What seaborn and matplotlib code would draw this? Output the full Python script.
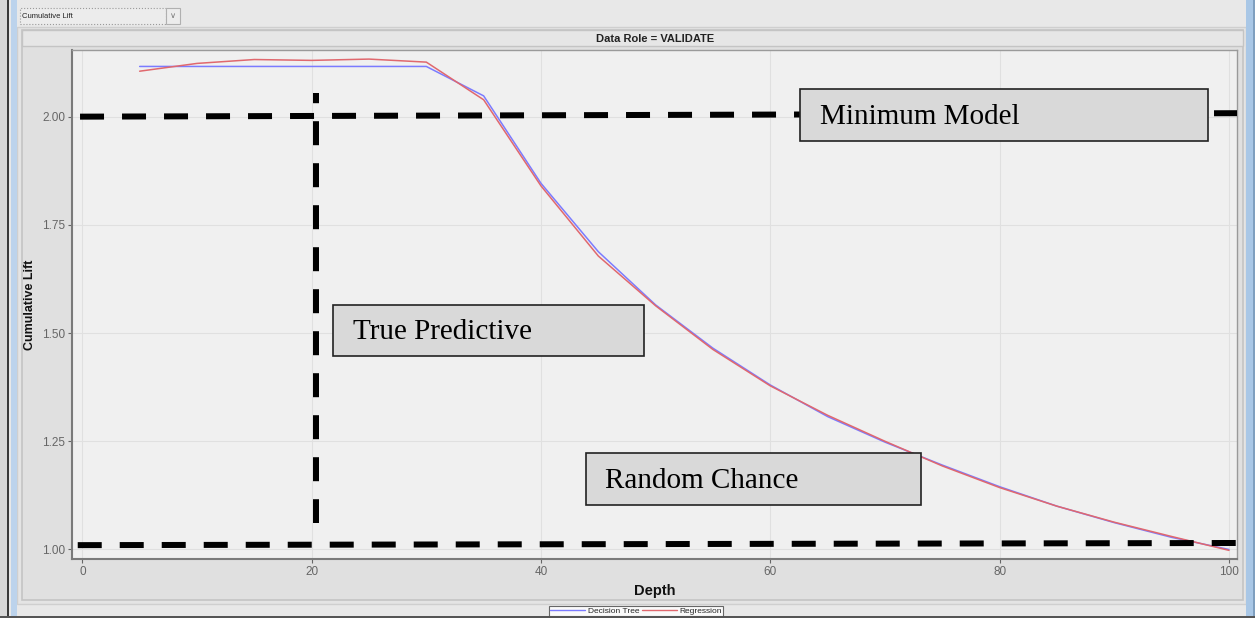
import numpy as np
import pandas as pd
import matplotlib
matplotlib.use("Agg")
import matplotlib.pyplot as plt
from matplotlib.patches import Rectangle
from matplotlib.lines import Line2D
import seaborn as sns

# ---------------------------------------------------------
# DATA
# ---------------------------------------------------------
depth = [5, 10, 15, 20, 25, 30, 35, 40, 45, 50, 55, 60, 65, 70, 75, 80, 85, 90, 95, 100]
decision_tree = [2.116, 2.116, 2.116, 2.116, 2.116, 2.116, 2.048, 1.846, 1.688, 1.565,
                 1.465, 1.380, 1.307, 1.248, 1.195, 1.145, 1.100, 1.062, 1.028, 1.000]
regression = [2.105, 2.123, 2.132, 2.130, 2.133, 2.126, 2.039, 1.840, 1.678, 1.563,
              1.462, 1.378, 1.310, 1.250, 1.193, 1.143, 1.100, 1.063, 1.030, 0.998]
series_names = ["Decision Tree", "Regression"]
x_ticks = [0, 20, 40, 60, 80, 100]
y_ticks = [1.00, 1.25, 1.50, 1.75, 2.00]

# hand-drawn annotation lines and boxes
min_model_x = [-0.2, 100.7]
min_model_y = [2.000, 2.008]
random_x = [-0.4, 100.7]
random_y = [1.010, 1.015]
true_pred_x = [20.4, 20.4]
true_pred_y = [2.054, 1.062]
box_labels = ["Minimum Model", "True Predictive", "Random Chance"]
box_x0 = [62.6, 21.9, 43.9]
box_x1 = [98.2, 49.0, 73.1]
box_y0 = [1.944, 1.446, 1.103]
box_y1 = [2.063, 1.565, 1.223]

df = pd.DataFrame({
    "Depth": depth * 2,
    "Cumulative Lift": decision_tree + regression,
    "Model": [series_names[0]] * len(depth) + [series_names[1]] * len(depth),
})

W, H = 1255, 618
sns.set_theme(style="whitegrid", rc={
    "axes.facecolor": "#f0f0f0",
    "grid.color": "#e0e0e0",
    "grid.linewidth": 0.8,
    "axes.edgecolor": "#8a8a8a",
    "xtick.color": "#666666",
    "ytick.color": "#666666",
})
plt.rcParams["font.family"] = ["Liberation Sans", "DejaVu Sans"]

fig = plt.figure(figsize=(W / 100, H / 100), dpi=100)
fig.patch.set_facecolor("#e8e8e8")


def px_rect(x0, y0, x1, y1, **kw):
    # rectangle in figure pixels (top-left origin), kept behind the axes
    r = Rectangle((x0 / W, 1 - y1 / H), (x1 - x0) / W, (y1 - y0) / H,
                  transform=fig.transFigure, zorder=-10, **kw)
    fig.patches.append(r)


# ---------------------------------------------------------
# WINDOW CHROME
# ---------------------------------------------------------
px_rect(17, 27, 1246, 604, facecolor="#e4e4e4", edgecolor="#cfcfcf", lw=1.0)
px_rect(22, 30, 1243, 600, facecolor="#e0e0e0", edgecolor="#c4c4c4", lw=1.2)
px_rect(22, 30, 1243, 46, facecolor="#e6e6e6", edgecolor="#c4c4c4", lw=1.0)
px_rect(0, 0, 7, H, facecolor="#d8d8d8", edgecolor="none")
px_rect(7, 0, 9, H, facecolor="#3a3a3a", edgecolor="none")
px_rect(11, 0, 17, H, facecolor="#bcd3ec", edgecolor="none")
px_rect(1246, 0, 1253, H, facecolor="#a9c7e6", edgecolor="none")
px_rect(1253, 0, W, H, facecolor="#7f9fbf", edgecolor="none")
px_rect(0, 616, W, H, facecolor="#555555", edgecolor="none")
px_rect(20, 8, 166, 24, facecolor="#ececec", edgecolor="#9a9a9a", lw=0.8, linestyle=":")
px_rect(166, 8, 180, 24, facecolor="#ececec", edgecolor="#b0b0b0", lw=0.8)
fig.text(22 / W, 1 - 16 / H, "Cumulative Lift", fontsize=5.5, va="center", color="#222222")
fig.text(173 / W, 1 - 16 / H, "\u2228", fontsize=6, va="center", ha="center", color="#777777")
fig.text(655 / W, 1 - 39 / H, "Data Role = VALIDATE", fontsize=8, fontweight="bold",
         ha="center", va="center", color="#222222")

# ---------------------------------------------------------
# PLOT
# ---------------------------------------------------------
ax = fig.add_axes([72 / W, 1 - 559 / H, (1237 - 72) / W, (559 - 50) / H])
palette = {series_names[0]: "#7b7bff", series_names[1]: "#e0686e"}
sns.lineplot(data=df, x="Depth", y="Cumulative Lift", hue="Model", palette=palette,
             linewidth=1.1, legend=False, ax=ax)

ax.set_xlim(-0.9, 100.7)
ax.set_ylim(0.978, 2.154)
ax.set_xticks(x_ticks)
ax.set_yticks(y_ticks)
ax.set_yticklabels([f"{v:.2f}" for v in y_ticks])
ax.tick_params(axis="both", labelsize=8.5, length=3, width=0.8, direction="out",
               left=True, bottom=True, pad=2)
ax.set_xlabel("Depth", fontsize=10.5, fontweight="bold", color="#111111", labelpad=4)
ax.set_ylabel("Cumulative Lift", fontsize=9, fontweight="bold", color="#111111", labelpad=4)
for side in ["left", "bottom"]:
    ax.spines[side].set_linewidth(1.5)
    ax.spines[side].set_color("#7a7a7a")
for side in ["top", "right"]:
    ax.spines[side].set_linewidth(1.0)
    ax.spines[side].set_color("#9a9a9a")

# hand-drawn dashed annotations (6 px thick, 24 px dash, 18 px gap)
dash_kw = dict(color="black", linewidth=4.32, solid_capstyle="butt", dash_capstyle="butt", zorder=5)
ax.plot(min_model_x, min_model_y, linestyle=(0, (4, 3)), **dash_kw)
ax.plot(random_x, random_y, linestyle=(0, (4, 3)), **dash_kw)
ax.plot(true_pred_x, true_pred_y, linestyle=(2.3, (4, 3)), **dash_kw)

for lab, x0, x1, y0, y1 in zip(box_labels, box_x0, box_x1, box_y0, box_y1):
    ax.add_patch(Rectangle((x0, y0), x1 - x0, y1 - y0, facecolor="#d9d9d9",
                           edgecolor="#222222", linewidth=1.2, zorder=6))
    ax.text(x0 + 1.7, (y0 + y1) / 2 - 0.004, lab, fontsize=21, family="Liberation Serif",
            ha="left", va="center", color="black", zorder=7)

# legend at the bottom of the window
handles = [Line2D([0], [0], color=palette[n], lw=1.0) for n in series_names]
leg = fig.legend(handles, series_names, loc="center", bbox_to_anchor=(636 / W, 1 - 611 / H),
                 ncol=2, fontsize=6, frameon=True, handlelength=4.2, handletextpad=0.3,
                 columnspacing=0.3, borderpad=0.15, fancybox=False)
leg.get_frame().set_edgecolor("#444444")
leg.get_frame().set_facecolor("white")
leg.get_frame().set_linewidth(0.8)

fig.savefig("out.png", dpi=100, facecolor=fig.get_facecolor())
